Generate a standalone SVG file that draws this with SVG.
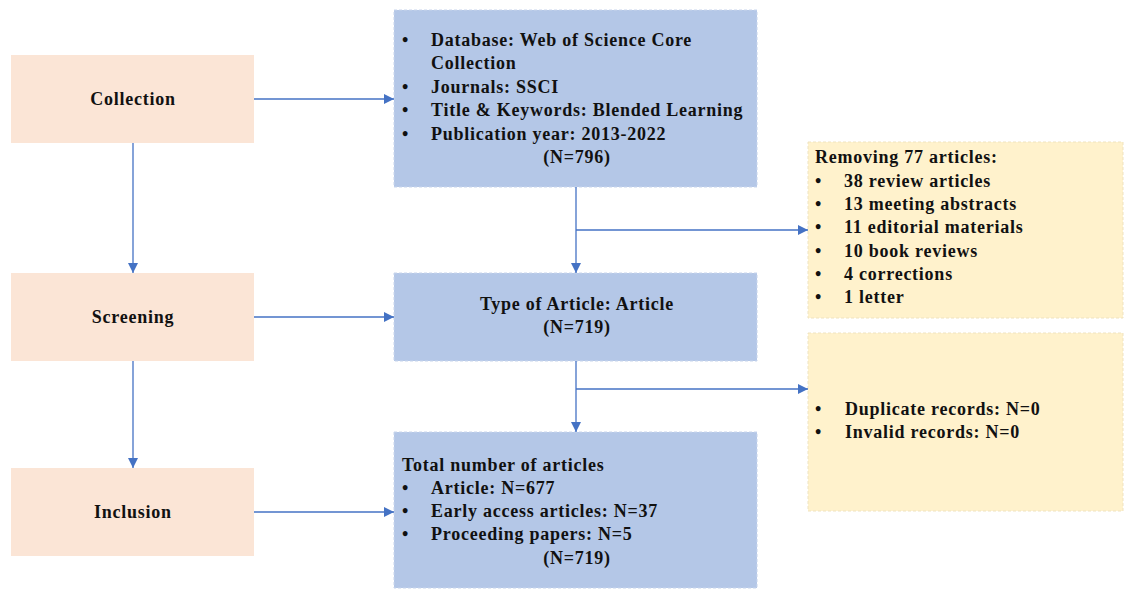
<svg xmlns="http://www.w3.org/2000/svg" width="1124" height="589" viewBox="0 0 1124 589">
<defs>
<style>
.t{font-family:"Liberation Serif","Times New Roman",serif;font-weight:bold;font-size:18px;letter-spacing:0.75px;fill:#111;}
.m{text-anchor:middle;}
.stage{fill:#FBE5D6;}
.blue{fill:#B4C7E7;stroke:#C8D5EC;stroke-width:1;stroke-dasharray:3 2;}
.yel{fill:#FFF2CC;stroke:#EFE3C0;stroke-width:1;stroke-dasharray:3 2;}
.c{stroke:#4472C4;stroke-width:1.3;fill:none;}
</style>
<marker id="ah" viewBox="0 0 10 10" refX="10" refY="5" markerWidth="10" markerHeight="10" markerUnits="userSpaceOnUse" orient="auto">
<path d="M0,0 L10,5 L0,10 z" fill="#4472C4"/>
</marker>
</defs>
<rect width="1124" height="589" fill="#fff"/>

<g id="collection">
<rect class="stage" x="11" y="55" width="243" height="88"/>
<text class="t m" x="133" y="105">Collection</text>
</g>
<g id="screening">
<rect class="stage" x="11" y="273" width="243" height="88"/>
<text class="t m" x="133" y="323">Screening</text>
</g>
<g id="inclusion">
<rect class="stage" x="11" y="468" width="243" height="88"/>
<text class="t m" x="133" y="518">Inclusion</text>
</g>

<g id="database">
<rect class="blue" x="394" y="10" width="363" height="177"/>
<text class="t" x="402" y="46">•</text><text class="t" x="431" y="46">Database: Web of Science Core</text>
<text class="t" x="431" y="69">Collection</text>
<text class="t" x="402" y="93">•</text><text class="t" x="431" y="93">Journals: SSCI</text>
<text class="t" x="402" y="116">•</text><text class="t" x="431" y="116">Title &amp; Keywords: Blended Learning</text>
<text class="t" x="402" y="140">•</text><text class="t" x="431" y="140">Publication year: 2013-2022</text>
<text class="t m" x="577" y="163">(N=796)</text>
</g>

<g id="type">
<rect class="blue" x="394" y="273" width="363" height="88"/>
<text class="t m" x="577" y="310">Type of Article: Article</text>
<text class="t m" x="577" y="333">(N=719)</text>
</g>

<g id="total">
<rect class="blue" x="394" y="432" width="363" height="156"/>
<text class="t" x="402" y="471">Total number of articles</text>
<text class="t" x="402" y="494">•</text><text class="t" x="431" y="494">Article: N=677</text>
<text class="t" x="402" y="517">•</text><text class="t" x="431" y="517">Early access articles: N=37</text>
<text class="t" x="402" y="540">•</text><text class="t" x="431" y="540">Proceeding papers: N=5</text>
<text class="t m" x="577" y="564">(N=719)</text>
</g>

<g id="removing">
<rect class="yel" x="808" y="142" width="315" height="176"/>
<text class="t" x="815" y="163">Removing 77 articles:</text>
<text class="t" x="815" y="187">•</text><text class="t" x="844" y="187">38 review articles</text>
<text class="t" x="815" y="210">•</text><text class="t" x="844" y="210">13 meeting abstracts</text>
<text class="t" x="815" y="233">•</text><text class="t" x="844" y="233">11 editorial materials</text>
<text class="t" x="815" y="257">•</text><text class="t" x="844" y="257">10 book reviews</text>
<text class="t" x="815" y="280">•</text><text class="t" x="844" y="280">4 corrections</text>
<text class="t" x="815" y="303">•</text><text class="t" x="844" y="303">1 letter</text>
</g>

<g id="records">
<rect class="yel" x="808" y="333" width="315" height="178"/>
<text class="t" x="815" y="415">•</text><text class="t" x="845" y="415">Duplicate records: N=0</text>
<text class="t" x="815" y="438">•</text><text class="t" x="845" y="438">Invalid records: N=0</text>
</g>

<g id="connectors">
<line class="c" x1="133" y1="143" x2="133" y2="273" marker-end="url(#ah)"/>
<line class="c" x1="133" y1="361" x2="133" y2="468" marker-end="url(#ah)"/>
<line class="c" x1="254" y1="99" x2="394" y2="99" marker-end="url(#ah)"/>
<line class="c" x1="254" y1="317" x2="394" y2="317" marker-end="url(#ah)"/>
<line class="c" x1="254" y1="512" x2="394" y2="512" marker-end="url(#ah)"/>
<line class="c" x1="576" y1="187" x2="576" y2="273" marker-end="url(#ah)"/>
<line class="c" x1="576" y1="230" x2="808" y2="230" marker-end="url(#ah)"/>
<line class="c" x1="576" y1="361" x2="576" y2="432" marker-end="url(#ah)"/>
<line class="c" x1="576" y1="389" x2="808" y2="389" marker-end="url(#ah)"/>
</g>
</svg>
